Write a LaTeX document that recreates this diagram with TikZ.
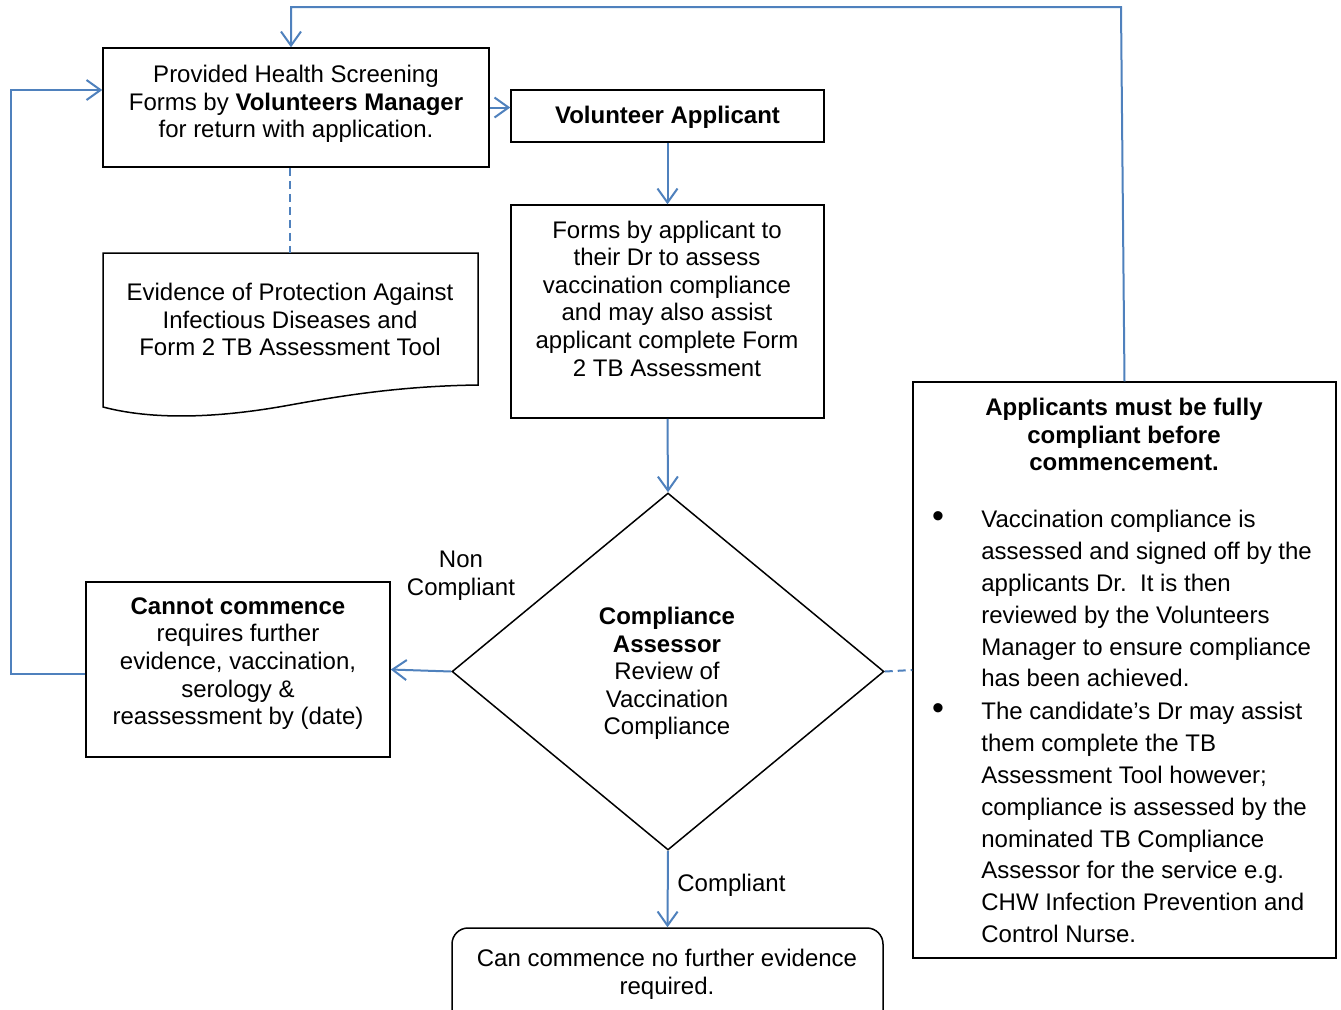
\documentclass[tikz,border=0pt]{standalone}
\usepackage{fontspec}
\setmainfont{Liberation Sans}
\usetikzlibrary{arrows.meta,shapes.geometric}
\definecolor{cblue}{RGB}{79,129,189}
\begin{document}
\begin{tikzpicture}[x=0.5pt,y=-0.5pt,
  box/.style={draw=black, line width=0.75pt, inner sep=0pt},
  txt/.style={align=center, inner sep=0pt, font=\fontsize{12}{13.8}\selectfont},
  conn/.style={draw=cblue, line width=1pt, -{Straight Barb[length=7pt,width=10pt,line width=1pt]}},
  dconn/.style={draw=cblue, line width=1pt, dash pattern=on 4pt off 2.5pt}]
\clip (0,0) rectangle (1341,1009);
\fill[white] (0,0) rectangle (1341,1009);

% boxes
\node[box, minimum width=193pt, minimum height=59.5pt] (b1) at (296,107.5) {};
\node[box, minimum width=156.5pt, minimum height=26pt] (b2) at (667.5,116) {};
\node[box, minimum width=156.5pt, minimum height=106.5pt] (b3) at (667.5,311.5) {};
\node[box, minimum width=152pt, minimum height=87.5pt] (cc) at (238,669.5) {};
\node[box, minimum width=211.5pt, minimum height=288pt] (rb) at (1124.5,670) {};
\node[box, rounded corners=8pt, minimum width=215.5pt, minimum height=62pt] (fin) at (667.5,990) {};
\node[box, diamond, minimum width=216pt, minimum height=178.5pt] (dia) at (668,671.5) {};

% document shape
\coordinate (doc) at (290,253);
\draw[line width=0.75pt] (103,253) -- (478,253) -- (478,385)
  .. controls (400,386) and (340,396) .. (290,405)
  .. controls (230,416) and (160,422) .. (103,407) -- cycle;

% texts
\node[txt] at (296,104) {Provided Health Screening\\Forms by \textbf{Volunteers Manager}\\for return with application.};
\node[txt] at (667.5,117) {\textbf{Volunteer Applicant}};
\node[txt] at (667,298.5) {Forms by applicant to\\their Dr to assess\\vaccination compliance\\and may also assist\\applicant complete Form\\2 TB Assessment};
\node[txt] at (290,319.5) {Evidence of Protection Against\\Infectious Diseases and\\Form 2 TB Assessment Tool};
\node[txt] at (238,663.5) {\textbf{Cannot commence}\\requires further\\evidence, vaccination,\\serology \&\\reassessment by (date)};
\node[txt] at (667,673.5) {\textbf{Compliance}\\\textbf{Assessor}\\Review of\\Vaccination\\Compliance};
\node[txt] at (461,576) {Non\\Compliant};
\node[txt, anchor=west] at (677,885) {Compliant};
\node[txt] at (667,974) {Can commence no further evidence\\required.};
\node[txt] at (1124,434.5) {\textbf{Applicants must be fully}\\\textbf{compliant before}\\\textbf{commencement.}};

\node[txt, anchor=north west, align=left, font=\fontsize{12}{15.9}\selectfont] (l1) at (981,510)
 {Vaccination compliance is\\assessed and signed off by the\\applicants Dr.\ \ It is then\\reviewed by the Volunteers\\Manager to ensure compliance\\has been achieved.};
\node[txt, anchor=north west, align=left, font=\fontsize{12}{15.9}\selectfont] (l2) at (981,702)
 {The candidate’s Dr may assist\\them complete the TB\\Assessment Tool however;\\compliance is assessed by the\\nominated TB Compliance\\Assessor for the service e.g.\\CHW Infection Prevention and\\Control Nurse.};
\node[txt, font=\fontsize{17}{17}\selectfont] at (938,520) {•};
\node[txt, font=\fontsize{17}{17}\selectfont] at (938,712) {•};

% connectors
\draw[conn] (b1.east) -- (b1.east -| b2.west);
\draw[conn] (b2.south) -- (b3.north);
\draw[conn] (b3.south) -- (dia.north);
\draw[conn] (dia.west) -- (cc.east);
\draw[conn] (dia.south) -- (fin.north);
\draw[dconn] (dia.east) -- (rb.west);
\draw[dconn] (doc |- b1.south) -- (doc);
\coordinate (top) at (1121,7);
\draw[conn] (rb.north) -- (top) -| ([xshift=-2.5pt]b1.north);
\coordinate (lft) at (11,674);
\draw[conn] ([yshift=-2.25pt]cc.west) -- (lft) |- ([yshift=8.75pt]b1.west);
\end{tikzpicture}
\end{document}
